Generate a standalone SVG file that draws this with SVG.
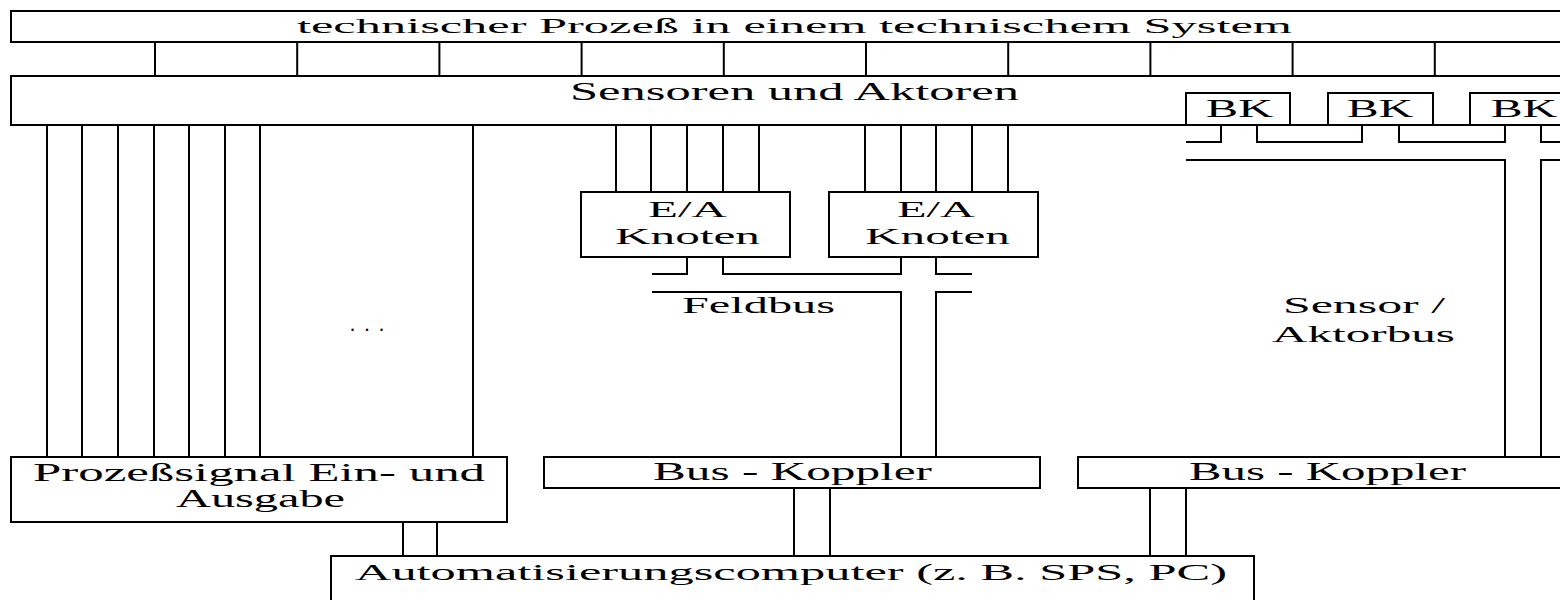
<svg xmlns="http://www.w3.org/2000/svg" width="1560" height="600" viewBox="0 0 1560 600">
<style>
rect{fill:#fff;stroke:#000;stroke-width:2}
.c path,.c line{fill:none;stroke:#000;stroke-width:2}
text{font-family:"Liberation Serif","Times New Roman",serif;fill:#000}
</style>
<rect x="0" y="0" width="1560" height="600" style="stroke:none"/>
<g class="c" id="connectors">
<path d="M155.0,42V76M297.2,42V76M439.4,42V76M581.6,42V76M723.8,42V76M866,42V76M1008.2,42V76M1150.4,42V76M1292.6,42V76M1434.8,42V76"/>
<path d="M47,125V457M82,125V457M118,125V457M154,125V457M189,125V457M225,125V457M260,125V457M473,125V457"/>
<path d="M616,125V192M651,125V192M687,125V192M723,125V192M759,125V192"/>
<path d="M865,125V192M901,125V192M936,125V192M972,125V192M1008,125V192"/>
<path d="M652,274H687V257"/>
<path d="M723,257V274H901V257"/>
<path d="M936,257V274H972"/>
<path d="M652,292H901V457"/>
<path d="M936,457V292H972"/>
<path d="M1186,142H1221V125"/>
<path d="M1257,125V142H1362V125"/>
<path d="M1399,125V142H1505V125"/>
<path d="M1541,125V142H1575"/>
<path d="M1186,160H1505V457"/>
<path d="M1541,457V160H1575"/>
<path d="M403,522V556M437,522V556"/>
<path d="M794,488V556M830,488V556"/>
<path d="M1150,488V556M1186,488V556"/>
</g>
<g id="prozess">
<rect x="11" y="11" width="1570" height="31"/>
<text x="297" y="33" font-size="20" textLength="995" lengthAdjust="spacingAndGlyphs">technischer Prozeß in einem technischem System</text>
</g>
<g id="sensoren">
<rect x="11" y="76" width="1570" height="49"/>
<text x="570" y="100" font-size="25" textLength="449" lengthAdjust="spacingAndGlyphs">Sensoren und Aktoren</text>
</g>
<g id="bk1">
<rect x="1186" y="93" width="104" height="32"/>
<text x="1206" y="117" font-size="25" textLength="67" lengthAdjust="spacingAndGlyphs">BK</text>
</g>
<g id="bk2">
<rect x="1328" y="93" width="105" height="32"/>
<text x="1347" y="117" font-size="25" textLength="66" lengthAdjust="spacingAndGlyphs">BK</text>
</g>
<g id="bk3">
<rect x="1470" y="93" width="110" height="32"/>
<text x="1491" y="117" font-size="25" textLength="66" lengthAdjust="spacingAndGlyphs">BK</text>
</g>
<g id="ea1">
<rect x="581" y="192" width="209" height="65"/>
<text x="648" y="217" font-size="23" textLength="79" lengthAdjust="spacingAndGlyphs">E/A</text>
<text x="615" y="244" font-size="24" textLength="145" lengthAdjust="spacingAndGlyphs">Knoten</text>
</g>
<g id="ea2">
<rect x="829" y="192" width="209" height="65"/>
<text x="897" y="217" font-size="23" textLength="78" lengthAdjust="spacingAndGlyphs">E/A</text>
<text x="865" y="244" font-size="24" textLength="145" lengthAdjust="spacingAndGlyphs">Knoten</text>
</g>
<g id="feldbus">
<text x="682" y="313" font-size="24" textLength="153" lengthAdjust="spacingAndGlyphs">Feldbus</text>
</g>
<g id="sabus">
<text x="1283" y="313" font-size="24" textLength="162" lengthAdjust="spacingAndGlyphs">Sensor /</text>
<text x="1272" y="342" font-size="24" textLength="183" lengthAdjust="spacingAndGlyphs">Aktorbus</text>
</g>
<g id="dots">
<text x="350" y="331" font-size="20" textLength="34" lengthAdjust="spacing">...</text>
</g>
<g id="pea">
<rect x="11" y="457" width="496" height="65"/>
<text x="33" y="481" font-size="25" textLength="452" lengthAdjust="spacingAndGlyphs">Prozeßsignal Ein- und</text>
<text x="176" y="507" font-size="25" textLength="169" lengthAdjust="spacingAndGlyphs">Ausgabe</text>
</g>
<g id="bk-mid">
<rect x="544" y="457" width="496" height="31"/>
<text x="653" y="480" font-size="25" textLength="279" lengthAdjust="spacingAndGlyphs">Bus - Koppler</text>
</g>
<g id="bk-right">
<rect x="1078" y="457" width="500" height="31"/>
<text x="1189" y="480" font-size="25" textLength="277" lengthAdjust="spacingAndGlyphs">Bus - Koppler</text>
</g>
<g id="auto">
<rect x="331" y="556" width="923" height="60"/>
<text x="355" y="580" font-size="23" textLength="872" lengthAdjust="spacingAndGlyphs">Automatisierungscomputer (z. B. SPS, PC)</text>
</g>
</svg>
